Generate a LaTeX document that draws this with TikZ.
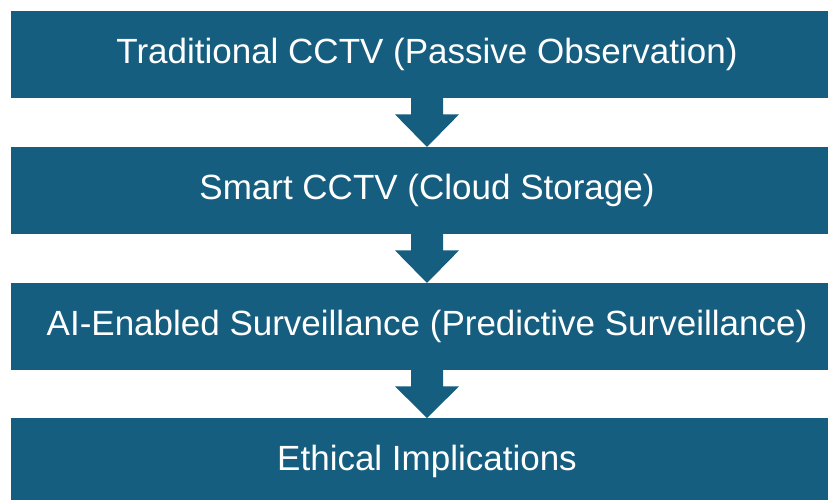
\documentclass[tikz,border=0pt]{standalone}
\usepackage{fontspec}
\setmainfont{Liberation Sans}
\usetikzlibrary{calc}
\definecolor{boxblue}{RGB}{22,94,128}
\begin{document}
\begin{tikzpicture}[x=1pt,y=1pt,
  stagebox/.style={rectangle, fill=boxblue, text=white, minimum width=832pt, minimum height=87pt, inner sep=0pt, font=\fontsize{35}{40}\selectfont, anchor=north},
  flowarrow/.style={fill=boxblue}]
\useasboundingbox (0,0) rectangle (828,499);
\clip (0,0) rectangle (828,499);
\node[stagebox] (b1) at (427,488) {Traditional CCTV (Passive Observation)};
\node[stagebox] (b2) at (427,352) {Smart CCTV (Cloud Storage)};
\node[stagebox] (b3) at (427,216) {AI-Enabled Surveillance (Predictive Surveillance)};
\node[stagebox] (b4) at (427,81) {Ethical Implications};
\foreach \a/\b in {b1/b2,b2/b3,b3/b4}{
  \fill[flowarrow] ($(\a.south)+(-16,0.5)$) -- ($(\a.south)+(16,0.5)$) -- ($(\a.south)+(16,-16)$) -- ($(\a.south)+(32,-16)$) -- (\b.north) -- ($(\a.south)+(-32,-16)$) -- ($(\a.south)+(-16,-16)$) -- cycle;
}
\end{tikzpicture}
\end{document}
